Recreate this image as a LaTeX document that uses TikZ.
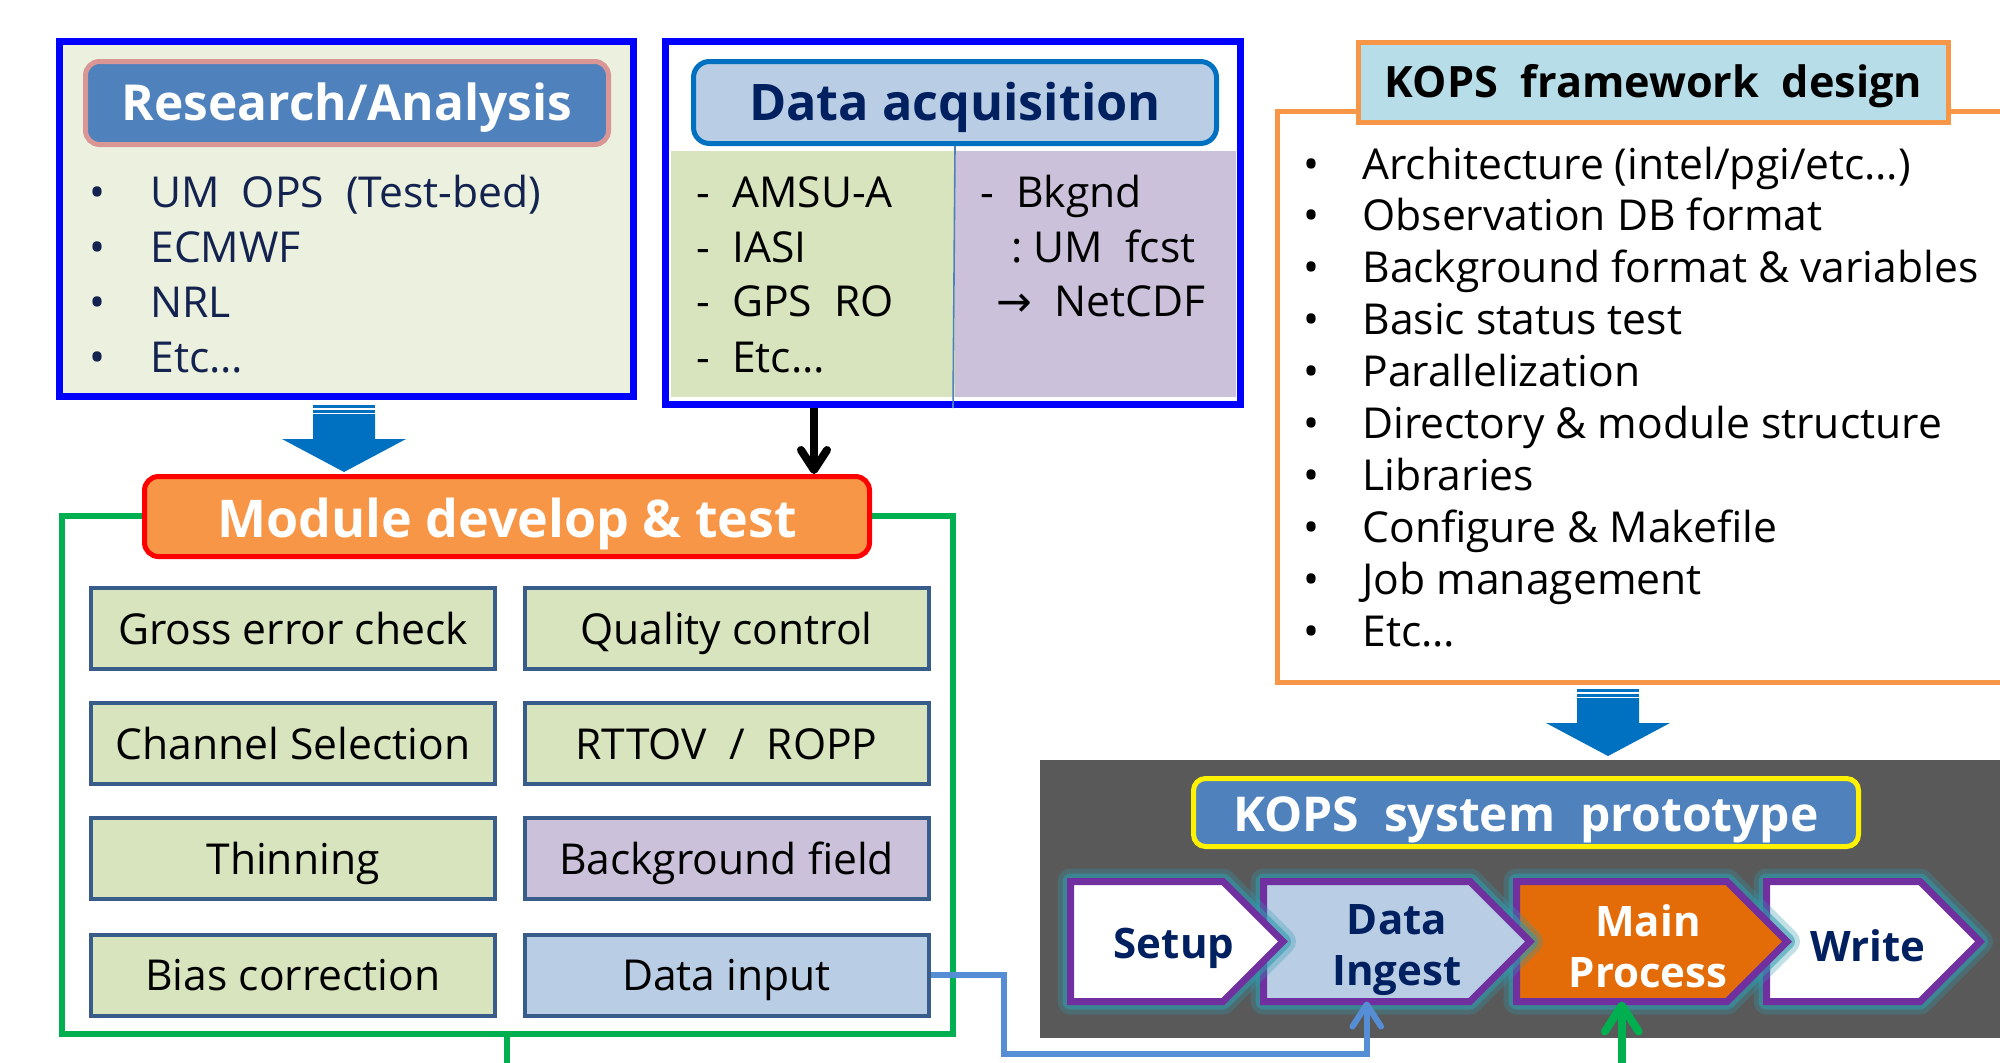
\documentclass[tikz,border=0pt]{standalone}
\usepackage{fontspec}
\setmainfont{Open Sans}
\newfontfamily\arrowfont{DejaVu Sans}
\usetikzlibrary{arrows.meta,calc}
\definecolor{pureblue}{HTML}{0000FF}
\definecolor{paleG}{HTML}{EBF1DE}
\definecolor{hdrBlue}{HTML}{4F81BD}
\definecolor{pinkB}{HTML}{D99694}
\definecolor{ltBlue}{HTML}{B9CDE5}
\definecolor{dkBlue}{HTML}{0070C0}
\definecolor{oliveG}{HTML}{D7E4BD}
\definecolor{lilac}{HTML}{CCC1DA}
\definecolor{orangeA}{HTML}{F79646}
\definecolor{ltCyan}{HTML}{B7DEE8}
\definecolor{greenF}{HTML}{00B050}
\definecolor{steel}{HTML}{385D8A}
\definecolor{panelG}{HTML}{595959}
\definecolor{navy}{HTML}{002060}
\definecolor{txtNavy}{HTML}{13224F}
\definecolor{mpOr}{HTML}{E36C09}
\definecolor{purp}{HTML}{7030A0}
\definecolor{glowC}{HTML}{2F9AAE}
\definecolor{connB}{HTML}{558ED5}
\tikzset{
  bodytxt/.style={font=\fontsize{21.3}{25}\selectfont, inner sep=0pt, anchor=base west},
  blank/.style={inner sep=0pt},
  mbox/.style={draw=steel, line width=2pt, minimum width=202pt, minimum height=40.5pt,
    font=\fontsize{21.3}{25}\selectfont, inner sep=0pt, text height=15.5pt, text depth=0pt},
  chev/.style={inner sep=0pt, outer sep=0pt, minimum height=60pt},
  chevtxt/.style={font=\bfseries\fontsize{21}{25.5}\selectfont, align=center, inner sep=0pt},
  glowA/.style={glowC, line width=13pt, opacity=0.3, line join=round},
  glowB/.style={glowC, line width=8pt, opacity=0.55, line join=round},
  barb/.style={-{Straight Barb[length=#1, width=1.3*#1, line cap=round, line join=round]}},
}
\begin{document}
\begin{tikzpicture}[x=0.5pt,y=-0.5pt]
\useasboundingbox (0,0) rectangle (2000,1062);
\clip (0,0) rectangle (2000,1062);

% ---------- Research / Analysis ----------
\node[draw=pureblue, line width=3.5pt, fill=paleG, minimum width=287pt, minimum height=177.5pt, blank] (ra) at (346.5,219) {};
\node[draw=pinkB, line width=2.5pt, fill=hdrBlue, rounded corners=7pt, minimum width=261.5pt, minimum height=41.5pt, blank] (rah) at (347,103) {};
\node[text=white, font=\bfseries\fontsize{24.8}{28}\selectfont, inner sep=0pt, text height=17.7pt, text depth=0pt] (raht) at (rah) {Research/Analysis};
\node[bodytxt, text=txtNavy] (rb1) at (89,207) {•};
\node[bodytxt, text=txtNavy] (rb2) at (89,262) {•};
\node[bodytxt, text=txtNavy] (rb3) at (89,317) {•};
\node[bodytxt, text=txtNavy] (rb4) at (89,372) {•};
\node[bodytxt, text=txtNavy] (r1) at (150,207) {UM~ OPS~ (Test-bed)};
\node[bodytxt, text=txtNavy] (r2) at (150,262) {ECMWF};
\node[bodytxt, text=txtNavy] (r3) at (150,317) {NRL};
\node[bodytxt, text=txtNavy] (r4) at (150,372) {Etc…};

% ---------- Data acquisition ----------
\node[draw=pureblue, line width=3.5pt, fill=white, minimum width=287.5pt, minimum height=181.5pt, blank] (da) at (953,223) {};
\node[fill=oliveG, minimum width=142pt, minimum height=123pt, blank] (dag) at (813,274) {};
\node[fill=lilac, minimum width=140.5pt, minimum height=123pt, blank] (dap) at (1095.5,274) {};
\node[draw=dkBlue, line width=2.5pt, fill=ltBlue, rounded corners=8pt, minimum width=261.5pt, minimum height=41pt, blank] (dah) at (955,102.5) {};
\node[text=navy, font=\bfseries\fontsize{25.2}{28}\selectfont, inner sep=0pt, text height=18pt, text depth=0pt] (daht) at (dah) {Data acquisition};
\draw[hdrBlue, line width=0.8pt] (dah.south) -- (da.south);
\node[bodytxt] (d1) at (696,207) {-~ AMSU-A};
\node[bodytxt] (d2) at (696,262) {-~ IASI};
\node[bodytxt] (d3) at (696,316) {-~ GPS~ RO};
\node[bodytxt] (d4) at (696,372) {-~ Etc…};
\node[bodytxt] (d5) at (980,207) {-~ Bkgnd};
\node[bodytxt] (d6) at (1011,262) {:~UM~ fcst};
\node[bodytxt] (d7) at (996,316) {{\arrowfont →}~ NetCDF};

% ---------- KOPS framework design ----------
\node[draw=orangeA, line width=2.5pt, minimum width=372.5pt, minimum height=285.5pt, anchor=north west, blank] (fw) at (1275,109) {};
\node[draw=orangeA, line width=2.5pt, fill=ltCyan, minimum width=295pt, minimum height=40pt, blank] (fwh) at (1653.5,82.5) {};
\node[font=\bfseries\fontsize{21.6}{26}\selectfont, inner sep=0pt, text height=15.4pt, text depth=0pt] (fwht) at (fwh) {KOPS~ framework~ design};
\foreach \k in {0,...,9}{
  \node[bodytxt] (fb\k) at (1303,179+51.9*\k) {•};
}
\node[bodytxt] (f1) at (1362,179.0) {Architecture (intel/pgi/etc…)};
\node[bodytxt] (f2) at (1362,230.9) {Observation DB format};
\node[bodytxt] (f3) at (1362,282.8) {Background format \& variables};
\node[bodytxt] (f4) at (1362,334.7) {Basic status test};
\node[bodytxt] (f5) at (1362,386.6) {Parallelization};
\node[bodytxt] (f6) at (1362,438.5) {Directory \& module structure};
\node[bodytxt] (f7) at (1362,490.4) {Libraries};
\node[bodytxt] (f8) at (1362,542.3) {Configure \& Makefile};
\node[bodytxt] (f9) at (1362,594.2) {Job management};
\node[bodytxt] (f10) at (1362,646.1) {Etc…};

% ---------- block arrows ----------
\begin{scope}[shift={(344,405)}]
  \fill[dkBlue] (-31,0) rectangle (31,2.5);
  \fill[dkBlue] (-31,4.5) rectangle (31,7.5);
  \fill[dkBlue] (-31,9) -- (31,9) -- (31,34) -- (62,34) -- (0,67) -- (-62,34) -- (-31,34) -- cycle;
\end{scope}
\begin{scope}[shift={(1608,689)}]
  \fill[dkBlue] (-31,0) rectangle (31,2.5);
  \fill[dkBlue] (-31,4.5) rectangle (31,7.5);
  \fill[dkBlue] (-31,9) -- (31,9) -- (31,34) -- (62,34) -- (0,67) -- (-62,34) -- (-31,34) -- cycle;
\end{scope}

% ---------- Module develop & test ----------
\node[draw=greenF, line width=3pt, minimum width=445.5pt, minimum height=259pt, blank] (mf) at (507,774.5) {};
\draw[greenF, line width=3pt] (mf.south) -- ++(0,40);
\node[draw=red, line width=2.5pt, fill=orangeA, rounded corners=7pt, minimum width=362.5pt, minimum height=40pt, blank] (mh) at (507,516.5) {};
\node[text=white, font=\bfseries\fontsize{26}{30}\selectfont, inner sep=0pt, text height=18.6pt, text depth=0pt] (mht) at ($(mh)+(0,2)$) {Module develop \& test};
\node[mbox, fill=oliveG] (b11) at (293,628.5) {Gross error check};
\node[mbox, fill=oliveG] (b12) at (726.5,628.5) {Quality control};
\node[mbox, fill=oliveG] (b21) at (293,743.5) {Channel Selection};
\node[mbox, fill=oliveG] (b22) at (726.5,743.5) {RTTOV~ /~ ROPP};
\node[mbox, fill=oliveG] (b31) at (293,858.5) {Thinning};
\node[mbox, fill=lilac] (b32) at (726.5,858.5) {Background field};
\node[mbox, fill=oliveG] (b41) at (293,975) {Bias correction};
\node[mbox, fill=ltBlue] (b42) at (726.5,975) {Data input};

% ---------- KOPS system prototype panel ----------
\node[fill=panelG, minimum width=485pt, minimum height=139pt, anchor=north west, blank] (pan) at (1040,760) {};
\node[draw=yellow, line width=2.5pt, fill=hdrBlue, rounded corners=6pt, minimum width=332.5pt, minimum height=34pt, blank] (ksp) at (1526,812.5) {};
\node[text=white, font=\bfseries\fontsize{24}{28}\selectfont, inner sep=0pt, text height=17.1pt, text depth=0pt] (kspt) at ($(ksp)+(0,2)$) {KOPS~ system~ prototype};

\node[chev, minimum width=76.25pt] (setup) at (1146.75,941.5) {};
\node[chev, minimum width=103.25pt] (di) at (1366.75,941.5) {};
\node[chev, minimum width=105.25pt] (mp) at (1621.75,941.5) {};
\node[chev, minimum width=76.75pt] (wr) at (1843.25,941.5) {};
\foreach \n/\f in {wr/white, mp/mpOr, di/ltBlue, setup/white}{
  \draw[glowA] (\n.north west) -- (\n.north east) -- ++(60,60) -- (\n.south east) -- (\n.south west) -- cycle;
  \draw[glowB] (\n.north west) -- (\n.north east) -- ++(60,60) -- (\n.south east) -- (\n.south west) -- cycle;
  \draw[purp, line width=3.5pt, fill=\f] (\n.north west) -- (\n.north east) -- ++(60,60) -- (\n.south east) -- (\n.south west) -- cycle;
}
\node[chevtxt, text=navy] (setupt) at (1174,948) {Setup};
\node[chevtxt, text=navy] (dit) at (1397,950) {Data\\Ingest};
\node[chevtxt, text=white] (mpt) at (1648,946) {Main\\Process};
\node[chevtxt, text=navy] (wrt) at (1868,946) {Write};

% ---------- connectors ----------
\coordinate (bk) at (814,0);
\draw[line width=4pt, barb=10pt] (da.south -| bk) -- (mh.north -| bk);
\draw[connB, line width=3pt, barb=11pt] (b42.east) -- ++(73,0) |- ($(di.south)+(0,52)$) -- (di.south);
\coordinate (gsrc) at ($(mp.south)+(0,70)$);
\draw[greenF, line width=4pt, barb=13pt] (gsrc) -- (mp.south);
\end{tikzpicture}
\end{document}
